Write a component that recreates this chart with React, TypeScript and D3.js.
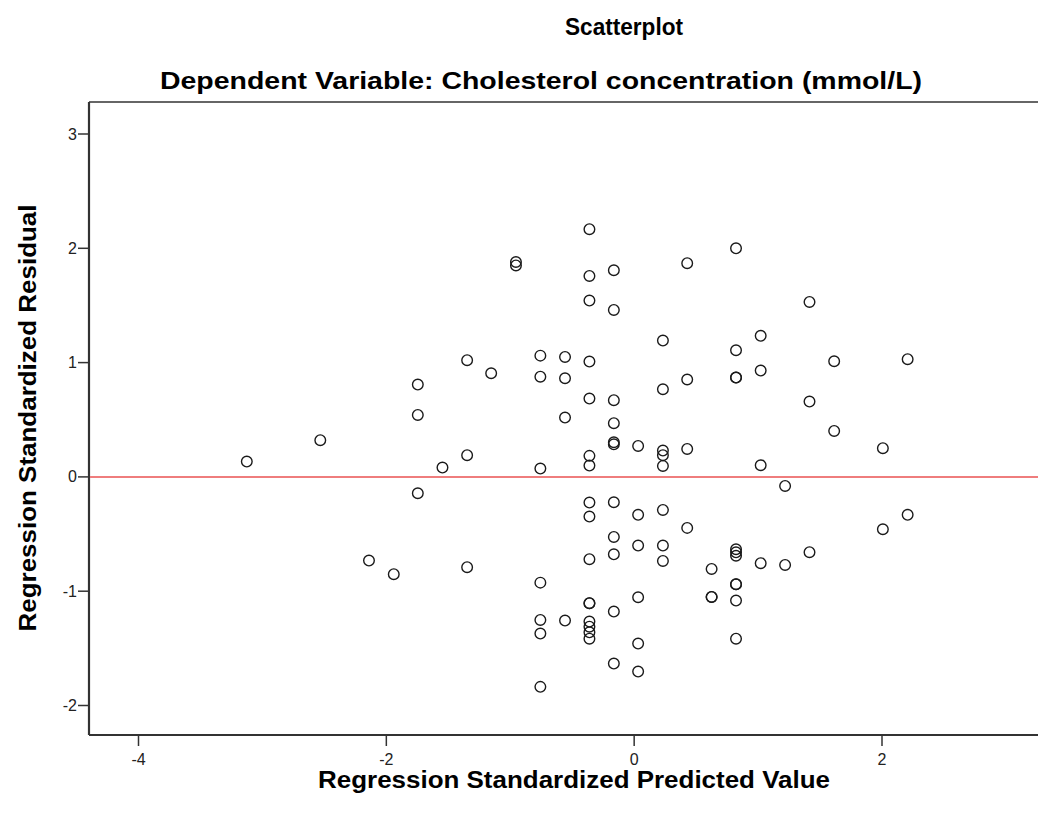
import React from "react";
import * as d3 from "d3";

const predicted: number[] = [
  -3.126, -2.533, -2.14, -1.94, -1.746, -1.746, -1.746, -1.547, -1.348, -1.348, -1.348, -1.154,
  -0.954, -0.954, -0.757, -0.757, -0.757, -0.757, -0.757, -0.757, -0.757,
  -0.558, -0.558, -0.558, -0.558,
  -0.361, -0.361, -0.361, -0.361, -0.361, -0.361, -0.361, -0.361, -0.361, -0.361, -0.361, -0.361, -0.361, -0.361, -0.361, -0.361,
  -0.164, -0.164, -0.164, -0.164, -0.164, -0.164, -0.164, -0.164, -0.164, -0.164, -0.164,
  0.032, 0.032, 0.032, 0.032, 0.032, 0.032,
  0.232, 0.232, 0.232, 0.232, 0.232, 0.232, 0.232, 0.232,
  0.428, 0.428, 0.428, 0.428,
  0.625, 0.625, 0.625,
  0.822, 0.822, 0.822, 0.822, 0.822, 0.822, 0.822, 0.822, 0.822, 0.822, 0.822,
  1.021, 1.021, 1.021, 1.021,
  1.218, 1.218,
  1.415, 1.415, 1.415,
  1.614, 1.614,
  2.007, 2.007,
  2.207, 2.207,
];

const residual: number[] = [
  0.134, 0.321, -0.732, -0.851, 0.808, 0.542, -0.143, 0.082, 1.021, 0.19, -0.79, 0.907,
  1.88, 1.85, 1.061, 0.877, 0.073, -0.925, -1.251, -1.371, -1.837,
  1.05, 0.863, 0.519, -1.257,
  2.167, 1.758, 1.543, 1.009, 0.685, 0.184, 0.099, -0.225, -0.347, -0.72, -1.105, -1.105, -1.266, -1.31, -1.36, -1.415,
  1.808, 1.461, 0.671, 0.47, 0.303, 0.285, -0.222, -0.525, -0.677, -1.178, -1.633,
  0.271, -0.332, -0.601, -1.053, -1.458, -1.703,
  1.193, 0.767, 0.23, 0.19, 0.096, -0.289, -0.601, -0.735,
  1.87, 0.852, 0.245, -0.446,
  -0.805, -1.05, -1.05,
  2.0, 1.108, 0.869, 0.869, -0.633, -0.66, -0.69, -0.939, -0.939, -1.082, -1.415,
  1.234, 0.93, 0.102, -0.755,
  -0.079, -0.77,
  1.531, 0.659, -0.659,
  1.012, 0.402,
  0.251, -0.458,
  1.03, -0.332,
];

const xTicks: number[] = [-4, -2, 0, 2];
const yTicks: number[] = [-2, -1, 0, 1, 2, 3];

const title = "Scatterplot";
const subtitle = "Dependent Variable: Cholesterol concentration (mmol/L)";
const xLabel = "Regression Standardized Predicted Value";
const yLabel = "Regression Standardized Residual";

export default function App() {
  const left = 89;
  const right = 1045;
  const top = 102;
  const bottom = 735;

  const x = d3.scaleLinear().domain([-4, 2]).range([138.5, 882]);
  const y = d3.scaleLinear().domain([-2, 3]).range([705.5, 134]);

  const points = predicted.map((p, i) => ({ p, r: residual[i] }));
  const font = "'Liberation Sans', Arial, sans-serif";

  return (
    <svg
      width={1038}
      height={817}
      style={{ position: "absolute", left: 0, top: 0, background: "#fff" }}
      fontFamily={font}
    >
      <rect x={0} y={0} width={1038} height={817} fill="#fff" />
      <text x={624} y={35} textAnchor="middle" fontSize={24} fontWeight="bold" textLength={118} lengthAdjust="spacingAndGlyphs">
        {title}
      </text>
      <text x={541} y={89} textAnchor="middle" fontSize={24} fontWeight="bold" textLength={762} lengthAdjust="spacingAndGlyphs">
        {subtitle}
      </text>

      {/* frame */}
      <line x1={left} x2={right} y1={top} y2={top} stroke="#333" strokeWidth={1.5} />
      <line x1={left} x2={left} y1={top} y2={bottom} stroke="#333" strokeWidth={2.2} />
      <line x1={left} x2={right} y1={bottom} y2={bottom} stroke="#333" strokeWidth={2.2} />

      {/* y ticks */}
      {yTicks.map((t) => (
        <g key={"y" + t}>
          <line x1={78} x2={left} y1={y(t)} y2={y(t)} stroke="#333" strokeWidth={1.5} />
          <text x={77} y={y(t) + 5.5} textAnchor="end" fontSize={16} fill="#222">
            {t}
          </text>
        </g>
      ))}

      {/* x ticks */}
      {xTicks.map((t) => (
        <g key={"x" + t}>
          <line x1={x(t)} x2={x(t)} y1={bottom} y2={746} stroke="#333" strokeWidth={1.5} />
          <text x={x(t)} y={765} textAnchor="middle" fontSize={16} fill="#222">
            {t}
          </text>
        </g>
      ))}

      {/* reference line */}
      <line x1={left + 1} x2={right} y1={y(0)} y2={y(0)} stroke="#ef7d7d" strokeWidth={2} />

      {/* points */}
      {points.map((d, i) => (
        <circle key={i} cx={x(d.p)} cy={y(d.r)} r={5.3} fill="none" stroke="#1a1a1a" strokeWidth={1.4} />
      ))}

      <text x={574} y={788} textAnchor="middle" fontSize={23} fontWeight="bold" textLength={512} lengthAdjust="spacingAndGlyphs">
        {xLabel}
      </text>
      <text
        transform={`translate(36, 418) rotate(-90)`}
        textAnchor="middle"
        fontSize={23}
        fontWeight="bold"
        textLength={427}
        lengthAdjust="spacingAndGlyphs"
      >
        {yLabel}
      </text>
    </svg>
  );
}
